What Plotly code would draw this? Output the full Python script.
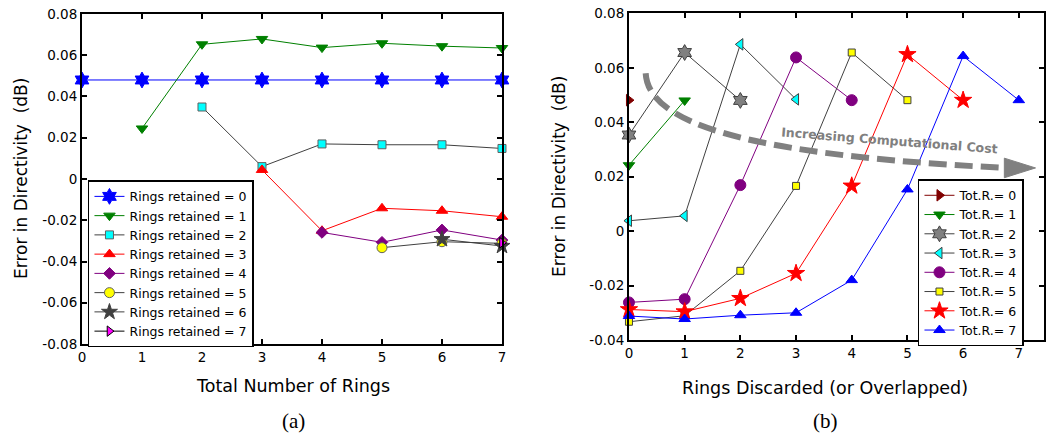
import plotly.graph_objects as go

# ---------------- data: panel (a) ----------------
total_rings = [0, 1, 2, 3, 4, 5, 6, 7]
a_labels = [f"Rings retained = {k}" for k in range(8)]
a_x = [
    [0, 1, 2, 3, 4, 5, 6, 7],
    [1, 2, 3, 4, 5, 6, 7],
    [2, 3, 4, 5, 6, 7],
    [3, 4, 5, 6, 7],
    [4, 5, 6, 7],
    [5, 6, 7],
    [6, 7],
    [7],
]
a_y = [
    [0.048, 0.048, 0.048, 0.048, 0.048, 0.048, 0.048, 0.048],
    [0.0245, 0.0653, 0.0679, 0.0637, 0.0658, 0.0644, 0.0635],
    [0.0349, 0.0060, 0.0170, 0.0166, 0.0166, 0.0148],
    [0.0044, -0.0251, -0.0142, -0.0154, -0.0183],
    [-0.0259, -0.0307, -0.0247, -0.0296],
    [-0.0333, -0.0304, -0.0312],
    [-0.0292, -0.0325],
    [-0.0309],
]
a_yticks = [-0.08, -0.06, -0.04, -0.02, 0, 0.02, 0.04, 0.06, 0.08]
a_yticktext = ["-0.08", "-0.06", "-0.04", "-0.02", "0", "0.02", "0.04", "0.06", "0.08"]

# ---------------- data: panel (b) ----------------
b_labels = [f"Tot.R.= {k}" for k in range(8)]
b_x = [list(range(k + 1)) for k in range(8)]
b_y = [
    [0.0481],
    [0.0242, 0.0480],
    [0.0353, 0.0656, 0.0480],
    [0.0038, 0.0056, 0.0686, 0.0484],
    [-0.0262, -0.0250, 0.0169, 0.0638, 0.0481],
    [-0.0333, -0.0311, -0.0146, 0.0166, 0.0656, 0.0481],
    [-0.0288, -0.0296, -0.0247, -0.0155, 0.0166, 0.0649, 0.0481],
    [-0.0312, -0.0323, -0.0309, -0.0300, -0.0180, 0.0153, 0.0643, 0.0481],
]
b_yticks = [-0.04, -0.02, 0, 0.02, 0.04, 0.06, 0.08]
b_yticktext = ["-0.04", "-0.02", "0", "0.02", "0.04", "0.06", "0.08"]

# ---------------- styles ----------------
a_styles = [
    dict(line="#0000ff", symbol="hexagram", fill="#0000ff", outline="#0000ff", size=12),
    dict(line="#008000", symbol="triangle-down", fill="#008000", outline="#008000", size=10),
    dict(line="#404040", symbol="square", fill="#00ffff", outline="#606060", size=8),
    dict(line="#ff0000", symbol="triangle-up", fill="#ff0000", outline="#ff0000", size=10),
    dict(line="#800080", symbol="diamond", fill="#800080", outline="#800080", size=9),
    dict(line="#404040", symbol="circle", fill="#ffff00", outline="#606060", size=10),
    dict(line="#404040", symbol="star", fill="#404040", outline="#404040", size=12),
    dict(line="#000000", symbol="triangle-right", fill="#ff00ff", outline="#000000", size=9),
]
b_styles = [
    dict(line="#800000", symbol="triangle-right", fill="#800000", outline="#800000", size=10),
    dict(line="#008000", symbol="triangle-down", fill="#008000", outline="#008000", size=10),
    dict(line="#404040", symbol="hexagram", fill="#808080", outline="#404040", size=12),
    dict(line="#404040", symbol="triangle-left", fill="#00ffff", outline="#404040", size=10),
    dict(line="#800080", symbol="circle", fill="#800080", outline="#800080", size=11),
    dict(line="#404040", symbol="square", fill="#ffff00", outline="#404040", size=7),
    dict(line="#ff0000", symbol="star", fill="#ff0000", outline="#ff0000", size=13),
    dict(line="#0000ff", symbol="triangle-up", fill="#0000ff", outline="#0000ff", size=10),
]

FONT = "DejaVu Sans"
fig = go.Figure()

for xs, ys, lab, st in zip(a_x, a_y, a_labels, a_styles):
    fig.add_trace(go.Scatter(
        x=xs, y=ys, name=lab, mode="lines+markers", xaxis="x", yaxis="y",
        legend="legend", cliponaxis=False,
        line=dict(color=st["line"], width=1),
        marker=dict(symbol=st["symbol"], size=st["size"], color=st["fill"],
                    line=dict(color=st["outline"], width=1)),
    ))

for xs, ys, lab, st in zip(b_x, b_y, b_labels, b_styles):
    fig.add_trace(go.Scatter(
        x=xs, y=ys, name=lab, mode="lines+markers", xaxis="x2", yaxis="y2",
        legend="legend2", cliponaxis=False,
        line=dict(color=st["line"], width=1),
        marker=dict(symbol=st["symbol"], size=st["size"], color=st["fill"],
                    line=dict(color=st["outline"], width=1)),
    ))

axis_common = dict(
    showline=True, linewidth=2, linecolor="black", mirror="ticks",
    ticks="inside", ticklen=5, tickwidth=1.5, tickcolor="black",
    showgrid=False, zeroline=False, automargin=False,
    tickfont=dict(family=FONT, size=13.5, color="black"),
)

fig.update_layout(
    width=1046, height=437,
    margin=dict(l=0, r=0, t=0, b=0, autoexpand=False),
    paper_bgcolor="white", plot_bgcolor="white",
    font=dict(family=FONT, color="black"),
    xaxis=dict(domain=[0.0784, 0.4799], range=[0, 7], tickvals=total_rings,
               anchor="y", **axis_common),
    yaxis=dict(domain=[0.2128, 0.968], range=[-0.08, 0.08], tickvals=a_yticks,
               ticktext=a_yticktext, anchor="x", **axis_common),
    xaxis2=dict(domain=[0.6013, 0.9985], range=[0, 7.46], tickvals=total_rings,
                anchor="y2", **axis_common),
    yaxis2=dict(domain=[0.222, 0.9695], range=[-0.04, 0.08], tickvals=b_yticks,
                ticktext=b_yticktext, anchor="x2", **axis_common),
    showlegend=True,
    legend=dict(x=0.0841, y=0.5875, xanchor="left", yanchor="top",
                bgcolor="white", bordercolor="black", borderwidth=1.5,
                font=dict(family=FONT, size=12.5, color="black"),
                itemwidth=30, tracegroupgap=0),
    legend2=dict(x=0.8776, y=0.590, xanchor="left", yanchor="top",
                 bgcolor="white", bordercolor="black", borderwidth=1.5,
                 font=dict(family=FONT, size=12.5, color="black"),
                 itemwidth=30, tracegroupgap=0),
)

# axis titles and captions
ann = [
    dict(text="Error in Directivity  (dB)", x=21 / 1046, y=1 - 179 / 437, textangle=-90, size=17,
         family=FONT),
    dict(text="Error in Directivity  (dB)", x=559 / 1046, y=1 - 177 / 437, textangle=-90, size=17,
         family=FONT),
    dict(text="Total Number of Rings", x=293 / 1046, y=1 - 386 / 437, textangle=0, size=17.5, family=FONT),
    dict(text="Rings Discarded (or Overlapped)", x=825 / 1046, y=1 - 388 / 437, textangle=0, size=17.5,
         family=FONT),
    dict(text="(a)", x=293 / 1046, y=1 - 421 / 437, textangle=0, size=21, family="Liberation Serif"),
    dict(text="(b)", x=825 / 1046, y=1 - 421 / 437, textangle=0, size=21, family="Liberation Serif"),
]
for a in ann:
    fig.add_annotation(text=a["text"], x=a["x"], y=a["y"], xref="paper", yref="paper",
                       showarrow=False, textangle=a["textangle"], xanchor="center", yanchor="middle",
                       font=dict(family=a["family"], size=a["size"], color="black"))

# "Increasing Computational Cost" dashed curved arrow (panel b)
arrow_path = "M 0.30,0.058 C 0.35,0.040 2.0,0.028 6.78,0.0232"
head_path = "M 6.74,0.0268 L 7.30,0.0232 L 6.74,0.0196 Z"
fig.add_shape(type="path", path=arrow_path, xref="x2", yref="y2",
              line=dict(color="#808080", width=6, dash="18px,8px"))
fig.add_shape(type="path", path=head_path, xref="x2", yref="y2",
              fillcolor="#808080", line=dict(color="#808080", width=1))
fig.add_annotation(text="<b>Increasing Computational Cost</b>", x=4.68, y=0.0334,
                   xref="x2", yref="y2", showarrow=False, textangle=4.5,
                   font=dict(family=FONT, size=12.5, color="#808080"))

fig.write_html("out.html", config={"displayModeBar": False},
               post_script="document.body.style.margin='0';document.body.style.overflow='hidden';")
